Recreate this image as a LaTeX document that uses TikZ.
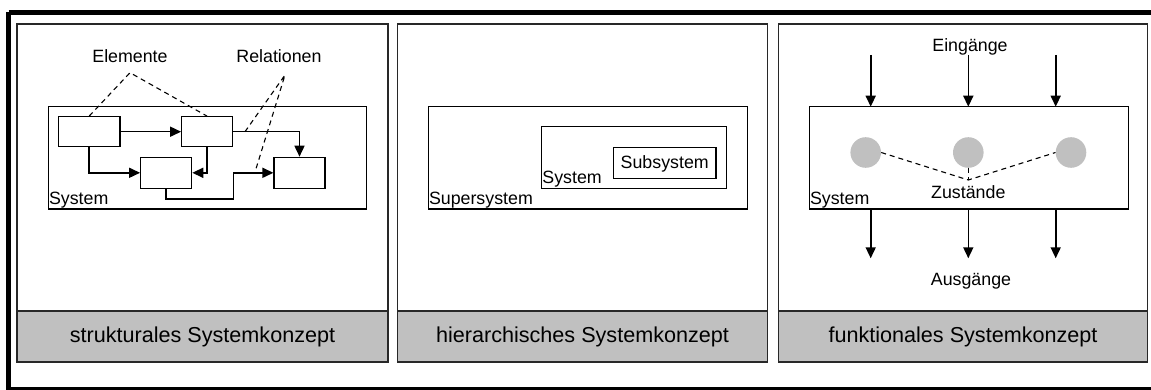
\documentclass[tikz,border=0pt]{standalone}
\usepackage{fontspec}
\setmainfont{Liberation Sans}
\usetikzlibrary{arrows.meta}
\definecolor{bandgray}{RGB}{192,192,192}
\definecolor{framegray}{RGB}{40,40,40}
\tikzset{
  panel/.style={draw=framegray, line width=1.2pt},
  band/.style={draw=framegray, line width=1.2pt, fill=bandgray},
  bx/.style={draw=black, line width=1.2pt},
  lbl/.style={font=\fontsize{17.8}{20}\selectfont, inner sep=0pt},
  biglbl/.style={font=\fontsize{21.6}{24}\selectfont, inner sep=0pt},
  conn/.style={line width=1.6pt, -{Triangle[length=11pt,width=10pt]}},
  dsh/.style={line width=1.1pt, dash pattern=on 5pt off 4pt},
  st/.style={fill=bandgray, draw=none, circle, minimum size=30.6pt, inner sep=0pt}
}
\begin{document}
\begin{tikzpicture}[x=1pt,y=-1pt]
\useasboundingbox (0,0) rectangle (1151,390);
\clip (0,0) rectangle (1151,390);
% outer frame
\draw[line width=5pt] (8.5,12.5) -- (1165,12.5);
\draw[line width=5pt] (8.5,12.5) -- (8.5,389.5) -- (1165,389.5);

% ---------- panel 1 ----------
\draw[panel] (17,24) rectangle (388,311);
\draw[band] (17,311) rectangle (388,362);
\node[biglbl] (t1) at (202.5,337) {strukturales Systemkonzept};

\draw[bx] (48.3,106.7) rectangle (366.7,209);
\node[lbl, anchor=south west] (s1) at (48.8,208) {System};
\node[bx, minimum width=61.7pt, minimum height=30pt, inner sep=0pt] (A) at (89.2,131.7) {};
\node[bx, minimum width=50.6pt, minimum height=30pt, inner sep=0pt] (B) at (207,131.7) {};
\node[bx, minimum width=51pt, minimum height=31pt, inner sep=0pt] (C) at (166.2,172.8) {};
\node[bx, minimum width=51pt, minimum height=31pt, inner sep=0pt] (D) at (299.5,172.8) {};
\coordinate (c1) at (233.3,172.8);
\draw[conn] (A.east) -- (B.west);
\draw[conn] (B.east) -| (D.north);
\draw[conn] (A.south) |- (C.west);
\draw[conn] (B.south) |- (C.east);
\draw[conn] (C.south) |- (233.3,199.3) -- (c1) -- (D.west);

\node[lbl] (el) at (130,56.5) {Elemente};
\node[lbl] (rel) at (279,56.5) {Relationen};
\coordinate (e0) at (130,72.7);
\coordinate (r0) at (285,75);
\draw[dsh] (A.north) -- (e0) -- (B.north);
\draw[dsh] (245,131.7) -- (r0) -- (255,172);

% ---------- panel 2 ----------
\draw[panel] (397.3,24) rectangle (767.7,311);
\draw[band] (397.3,311) rectangle (767.7,362);
\node[biglbl] (t2) at (582.5,337) {hierarchisches Systemkonzept};

\draw[bx] (428.3,106.7) rectangle (747.3,209);
\node[lbl, anchor=south west] (ss) at (428.8,208) {Supersystem};
\draw[bx] (541.7,126.7) rectangle (726.7,188.3);
\node[lbl, anchor=south west] (sy) at (542.2,187.5) {System};
\draw[bx] (613.3,147.7) rectangle (716,178.3);
\node[lbl] (sub) at (664.7,163.5) {Subsystem};

% ---------- panel 3 ----------
\draw[panel] (778.3,24) rectangle (1147.7,311);
\draw[band] (778.3,311) rectangle (1147.7,362);
\node[biglbl] (t3) at (963,337) {funktionales Systemkonzept};

\node[bx, minimum width=319pt, minimum height=102.3pt, inner sep=0pt] (sys) at (968.8,157.85) {};
\node[lbl, anchor=south west] (s3) at (809.8,208) {System};
\node[lbl] (ein) at (970,46.5) {Eingänge};
\node[lbl] (aus) at (971,281.5) {Ausgänge};
\node[lbl] (zu) at (968.3,192) {Zustände};

\foreach \i/\xx in {1/870.7,2/968.3,3/1055.7}{
  \coordinate (in\i) at (\xx,55);
  \coordinate (out\i) at (\xx,258.3);
  \draw[conn] (in\i) -- (\xx,106.7);
  \draw[conn] (\xx,209) -- (out\i);
}
\node[st] (k1) at (865.7,152.5) {};
\node[st] (k2) at (968.3,152.5) {};
\node[st] (k3) at (1071,152.5) {};
\coordinate (zp) at (968.3,180);
\draw[dsh] (k1.east) -- (zp) -- (k3.west);
\draw[dsh] (k2.south) -- (zp);
\end{tikzpicture}
\end{document}
